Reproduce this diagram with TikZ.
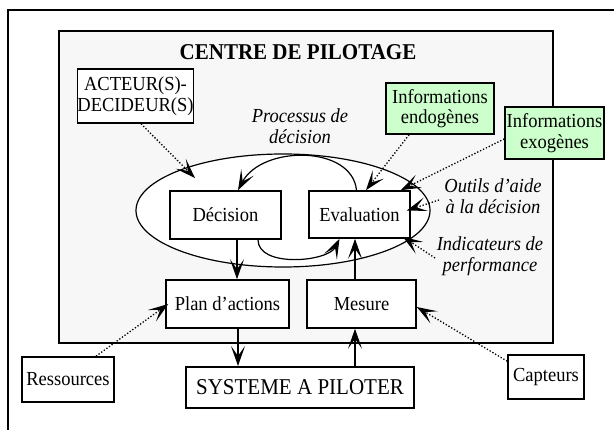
\documentclass[tikz,border=0pt]{standalone}
\usepackage{fontspec}
\setmainfont{Liberation Serif}[FakeStretch=0.93]
\usetikzlibrary{arrows.meta}
\newcommand\fsn{\fontsize{19.9}{20.5}\selectfont}
\newcommand\fsb{\fontsize{22.6}{23}\selectfont}
\definecolor{infogreen}{RGB}{204,255,204}
\definecolor{centregray}{RGB}{247,247,247}
\begin{document}
\begin{tikzpicture}[x=1pt,y=-1pt,
  box/.style={draw, line width=1.6pt, fill=white, inner sep=0pt, align=center, font=\fsn},
  greenbox/.style={box, fill=infogreen},
  lbl/.style={inner sep=0pt, align=center, font=\fsn\itshape},
  tipst/.style={-{Stealth[length=20pt,width=14pt,inset=10pt]}},
  arr/.style={line width=1.2pt, tipst},
  dotarr/.style={line width=1.3pt, dash pattern=on 1.3pt off 1.9pt, tipst}]
\useasboundingbox (0,0) rectangle (614,430);
\draw[line width=1.5pt] (8,432) -- (8,10) -- (616,10);
\node[draw, fill=centregray, line width=1.8pt, minimum width=494pt, minimum height=312pt, inner sep=0pt] (centre) at (306,187) {};
\node[inner sep=0pt, font=\fsb\bfseries] (title) at (298,52) {CENTRE DE PILOTAGE};
\draw[line width=1.2pt, fill=white] (283,210.5) ellipse [x radius=147, y radius=56.5];
\node[box, minimum width=111pt, minimum height=54pt] (act) at (135.5,96) {ACTEUR(S)-\\DECIDEUR(S)};
\node[lbl] (proc) at (300,126) {Processus de\\décision};
\node[greenbox, minimum width=108pt, minimum height=51pt] (endo) at (440,108.5) {Informations\\endogènes};
\node[greenbox, minimum width=99pt, minimum height=52pt] (exo) at (554.5,133) {Informations\\exogènes};
\node[box, minimum width=111pt, minimum height=48pt] (dec) at (225.5,215) {Décision};
\node[box, minimum width=101pt, minimum height=47pt] (eval) at (359.5,214.5) {Evaluation};
\node[lbl] (outils) at (493,196) {Outils d’aide\\à la décision};
\node[lbl] (indic) at (490,256) {Indicateurs de\\performance};
\node[box, minimum width=123pt, minimum height=48pt] (plan) at (227.5,304) {Plan d’actions};
\node[box, minimum width=109pt, minimum height=48pt] (mes) at (361.5,304) {Mesure};
\node[box, minimum width=92pt, minimum height=45pt] (res) at (68,379.5) {Ressources};
\node[box, line width=2pt, minimum width=228pt, minimum height=41pt, font=\fsb] (sys) at (300,387.5) {SYSTEME A PILOTER};
\node[box, minimum width=76pt, minimum height=44pt] (capt) at (546,377) {Capteurs};
\coordinate (pdec) at (195,178);
\coordinate (poutils) at (439,200);
\coordinate (pindic) at (435,258);
% dotted arrows
\draw[dotarr] ([xshift=5.5pt]act.south) -- (pdec);
\draw[dotarr] ([xshift=-31pt]endo.south) -- ([xshift=6.5pt]eval.north);
\draw[dotarr] ([yshift=-6pt]exo.west) -- ([xshift=-10pt]eval.north east);
\draw[dotarr] (poutils) -- ([yshift=4pt,xshift=-4pt]eval.east);
\draw[dotarr] (pindic) -- ([xshift=-8pt,yshift=2pt]eval.south east);
\draw[dotarr] ([xshift=28pt]res.north) -- ([xshift=3pt]plan.west);
\draw[dotarr] ([yshift=-7pt]capt.north west) -- ([yshift=-3pt]mes.east);
% solid arrows
\draw[arr] ([xshift=-3pt]eval.north) .. controls (352,145) and (262,145) .. ([xshift=12.5pt]dec.north);
\draw[arr] ([xshift=32.5pt]dec.south) .. controls (258,268) and (328,262) .. ([xshift=-20pt]eval.south);
\draw[arr] (dec.south -| 237,0) -- (plan.north -| 237,0);
\draw[arr] (mes.north -| 355,0) -- (eval.south -| 355,0);
\draw[arr] (plan.south -| 238,0) -- (sys.north -| 238,0);
\draw[arr] (sys.north -| 355,0) -- (mes.south -| 355,0);
\end{tikzpicture}
\end{document}
